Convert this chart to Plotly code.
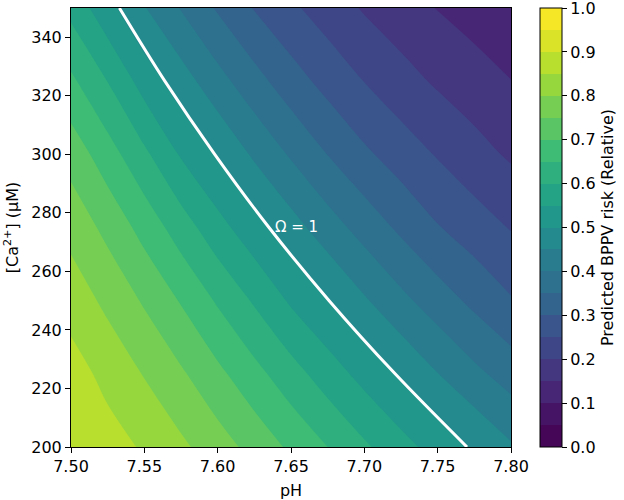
import plotly.graph_objects as go
from plotly.colors import hex_to_rgb
import plotly.colors as pc

# ---- data ----
ph = [7.500, 7.525, 7.550, 7.575, 7.600, 7.625, 7.650, 7.675, 7.700, 7.725, 7.750, 7.775, 7.800]
ca = [200, 225, 250, 275, 300, 325, 350]

risk_ca200 = [0.895, 0.871, 0.844, 0.810, 0.773, 0.733, 0.691, 0.650, 0.608, 0.568, 0.530, 0.495, 0.456]
risk_ca225 = [0.872, 0.835, 0.797, 0.757, 0.712, 0.666, 0.620, 0.575, 0.533, 0.493, 0.451, 0.412, 0.378]
risk_ca250 = [0.829, 0.788, 0.744, 0.696, 0.644, 0.594, 0.543, 0.502, 0.456, 0.413, 0.374, 0.338, 0.304]
risk_ca275 = [0.783, 0.736, 0.682, 0.625, 0.568, 0.518, 0.470, 0.423, 0.380, 0.340, 0.303, 0.274, 0.247]
risk_ca300 = [0.730, 0.672, 0.610, 0.545, 0.495, 0.442, 0.394, 0.349, 0.309, 0.276, 0.246, 0.218, 0.193]
risk_ca325 = [0.660, 0.599, 0.529, 0.473, 0.418, 0.368, 0.322, 0.283, 0.249, 0.219, 0.193, 0.172, 0.151]
risk_ca350 = [0.585, 0.516, 0.453, 0.397, 0.344, 0.297, 0.259, 0.226, 0.195, 0.171, 0.148, 0.129, 0.110]
risk = [risk_ca200, risk_ca225, risk_ca250, risk_ca275, risk_ca300, risk_ca325, risk_ca350]

omega_ph = [7.533, 7.564, 7.598, 7.635, 7.676, 7.721, 7.770]
omega_ca = [350, 325, 300, 275, 250, 225, 200]

cbar_ticks = [0.0, 0.1, 0.2, 0.3, 0.4, 0.5, 0.6, 0.7, 0.8, 0.9, 1.0]
x_ticks = [7.50, 7.55, 7.60, 7.65, 7.70, 7.75, 7.80]
y_ticks = [200, 220, 240, 260, 280, 300, 320, 340]

# ---- colours: viridis sampled at band midpoints (matplotlib contourf style) ----
vir = [hex_to_rgb(c) for c in pc.sequential.Viridis]


def viridis(u):
    u = min(max(u, 0.0), 1.0)
    n = len(vir) - 1
    p = u * n
    i = min(int(p), n - 1)
    f = p - i
    c = [vir[i][k] + (vir[i + 1][k] - vir[i][k]) * f for k in range(3)]
    return "rgb(%d,%d,%d)" % tuple(round(v) for v in c)


n_bands = 20
stops = [[0.0, viridis(0.0)]]
for i in range(n_bands):
    stops.append([(i + 1) / (n_bands + 1), viridis((i + 0.5) / n_bands)])
stops.append([1.0, viridis(1.0)])

FONT = "DejaVu Sans"
FS = 16

fig = go.Figure()
fig.add_trace(go.Contour(
    x=ph, y=ca, z=risk,
    colorscale=stops,
    autocontour=False,
    contours=dict(start=0, end=1, size=0.05, coloring="fill", showlines=False),
    line=dict(width=0, smoothing=1.0),
    zmin=0, zmax=1,
    colorbar=dict(
        x=1.0635, xanchor="left", xpad=0,
        y=0.5, yanchor="middle", ypad=0,
        len=1, lenmode="fraction",
        thickness=22, thicknessmode="pixels",
        outlinewidth=1, outlinecolor="black",
        tickmode="array",
        tickvals=[t if t < 1 else 0.9999 for t in cbar_ticks],
        ticktext=["%.1f" % t for t in cbar_ticks],
        ticklabeloverflow="allow",
        ticks="outside", ticklen=5, tickcolor="black",
        tickfont=dict(family=FONT, size=FS, color="black"),
        title=dict(text="Predicted BPPV risk (Relative)", side="right",
                   font=dict(family=FONT, size=FS, color="black")),
    ),
    hoverinfo="skip",
))

fig.add_trace(go.Scatter(
    x=omega_ph, y=omega_ca, mode="lines",
    line=dict(color="white", width=3, shape="spline"),
    showlegend=False, hoverinfo="skip",
))

fig.add_annotation(
    x=7.654, y=275.2, text="Ω = 1", showarrow=False,
    font=dict(family=FONT, size=15, color="white"),
    xanchor="center", yanchor="middle",
)

axis_common = dict(
    showline=True, linecolor="black", linewidth=1, mirror=True,
    ticks="outside", ticklen=5, tickcolor="black", tickwidth=1,
    showgrid=False, zeroline=False, automargin=False,
    tickfont=dict(family=FONT, size=FS, color="black"),
)

fig.update_layout(
    width=624, height=500,
    margin=dict(l=71, r=112, t=8, b=53),
    paper_bgcolor="white", plot_bgcolor="white",
    showlegend=False,
    font=dict(family=FONT, size=FS, color="black"),
    xaxis=dict(range=[7.50, 7.80], tickvals=x_ticks,
               ticktext=["%.2f" % t for t in x_ticks],
               title=dict(text="pH", font=dict(family=FONT, size=FS), standoff=10),
               **axis_common),
    yaxis=dict(range=[200, 350], tickvals=y_ticks,
               ticktext=[str(t) for t in y_ticks],
               title=dict(text="[Ca<sup>2+</sup>] (µM)", font=dict(family=FONT, size=FS), standoff=8),
               **axis_common),
)

# remove the browser's default 8px body margin so the figure fills the window
fig.write_html(
    "out.html",
    config={"displayModeBar": False, "staticPlot": True},
    post_script="document.body.style.margin='0';document.body.style.overflow='hidden';",
)
